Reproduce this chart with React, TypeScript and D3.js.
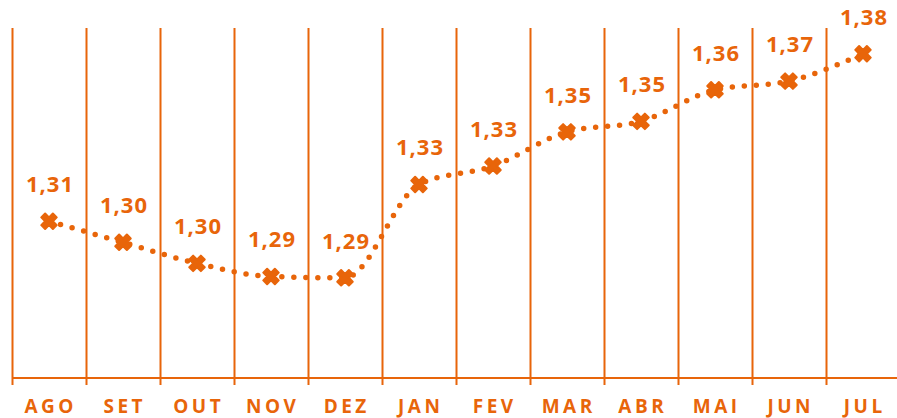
import React from "react";
import * as d3 from "d3";

const months = ["AGO", "SET", "OUT", "NOV", "DEZ", "JAN", "FEV", "MAR", "ABR", "MAI", "JUN", "JUL"];
const values = [1.312, 1.304, 1.296, 1.291, 1.2905, 1.326, 1.333, 1.346, 1.35, 1.362, 1.3653, 1.3757];

const W = 897;
const H = 418;
const COLOR = "#E8650A";
const fmt = (v: number) => d3.format(".2f")(v).replace(".", ",");

export default function App() {
  const x = d3.scaleBand<string>().domain(months).range([12, 900]).padding(0);
  const y = d3.scaleLinear().domain([1.2524, 1.3855]).range([378, 28]);
  const cx = (m: string) => (x(m) as number) + x.bandwidth() / 2;

  const line = d3
    .line<number>()
    .x((_, i) => cx(months[i]))
    .y((v) => y(v))
    .curve(d3.curveMonotoneX);

  const marker = d3.symbol().type(d3.symbolCross).size(150)() as string;

  return (
    <svg width={W} height={H} style={{ position: "absolute", left: 0, top: 0, background: "#fff" }}>
      <g>
        {months.map((m) => (
          <line key={m} x1={(x(m) as number) + 0.5} x2={(x(m) as number) + 0.5} y1={28} y2={385} stroke={COLOR} strokeWidth={2} />
        ))}
        <line x1={12} x2={W} y1={378} y2={378} stroke={COLOR} strokeWidth={2} />
      </g>
      <path d={line(values) as string} fill="none" stroke={COLOR} strokeWidth={5.5} strokeLinecap="round" strokeDasharray="0 12" />
      {values.map((v, i) => (
        <path key={i} d={marker} transform={`translate(${cx(months[i])},${y(v)}) rotate(45)`} fill={COLOR} stroke={COLOR} strokeWidth={2} strokeLinejoin="round" />
      ))}
      {values.map((v, i) => (
        <text
          key={"l" + i}
          x={cx(months[i]) + 1}
          y={y(v) - 29}
          textAnchor="middle"
          fill={COLOR}
          fontFamily="'Open Sans', sans-serif"
          fontWeight={700}
          fontSize={22}
          letterSpacing={1}
        >
          {fmt(v)}
        </text>
      ))}
      {months.map((m) => (
        <text
          key={"m" + m}
          x={cx(m) + 1.75}
          y={413}
          textAnchor="middle"
          fill={COLOR}
          fontFamily="'Open Sans', sans-serif"
          fontWeight={700}
          fontSize={19}
          letterSpacing={3.5}
        >
          {m}
        </text>
      ))}
    </svg>
  );
}
